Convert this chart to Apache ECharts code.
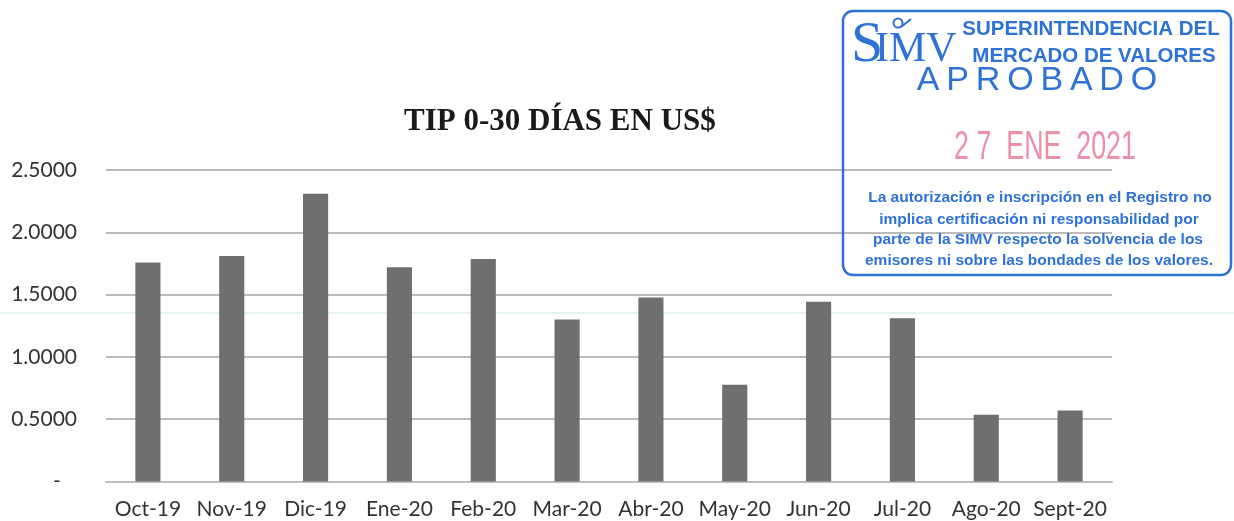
<!DOCTYPE html>
<html>
<head>
<meta charset="utf-8">
<script src="https://cdn.jsdelivr.net/npm/echarts@6/dist/echarts.min.js"></script>
<style>
html,body{margin:0;padding:0;background:#fff;}
#chart{width:1234px;height:521px;}
</style>
</head>
<body>
<div id="chart"></div>
<script>
var titleText = 'TIP 0-30 DÍAS EN US$';
var categories = ['Oct-19','Nov-19','Dic-19','Ene-20','Feb-20','Mar-20','Abr-20','May-20','Jun-20','Jul-20','Ago-20','Sept-20'];
var values = [1.758, 1.810, 2.310, 1.720, 1.785, 1.300, 1.477, 0.776, 1.443, 1.310, 0.535, 0.570];
var stampHeader = ['SUPERINTENDENCIA DEL', 'MERCADO DE VALORES'];
var stampStatus = 'A\u2009P\u2009R\u2009O\u2009B\u2009A\u2009D\u2009O';
var stampDate = '2 7  ENE  2021';
var stampNote = [
  'La autorización e inscripción en el Registro no',
  'implica certificación ni responsabilidad por',
  'parte de la SIMV respecto la solvencia de los',
  'emisores ni sobre las bondades de los valores.'
];

var blue = '#2f72d6';
var noteFont = 'bold 15.5px "Liberation Sans", Arial, sans-serif';
var chart = echarts.init(document.getElementById('chart'), null, {renderer:'canvas'});
var option = {
  animation: false,
  backgroundColor: '#ffffff',
  title: {
    text: titleText,
    left: 404, top: 106, padding: 0,
    textStyle: {fontFamily: '"Liberation Serif", "DejaVu Serif", serif', fontWeight: 'bold', fontSize: 31, color: '#1a1a1a'}
  },
  grid: {left: 106, right: 122, top: 170, bottom: 39.5, containLabel: false},
  xAxis: {
    type: 'category',
    data: categories,
    axisTick: {show: false},
    axisLine: {show: true, lineStyle: {color: '#bdbdbd', width: 2}},
    axisLabel: {margin: 17, fontFamily: 'Lato, "Open Sans", sans-serif', fontSize: 21, color: '#333333', interval: 0}
  },
  yAxis: {
    type: 'value',
    min: 0, max: 2.5, interval: 0.5,
    axisLine: {show: false},
    axisTick: {show: false},
    splitLine: {lineStyle: {color: '#a4a4a4', width: 1.5}},
    axisLabel: {
      margin: 29,
      fontFamily: 'Lato, "Open Sans", sans-serif', fontSize: 21, color: '#333333',
      formatter: function (v) { return v === 0 ? '-   ' : v.toFixed(4); }
    }
  },
  series: [{
    type: 'bar',
    data: values,
    barWidth: '30%',
    itemStyle: {color: '#6f6f6f'}
  }],
  graphic: [
    {type: 'line', shape: {x1: 0, y1: 313, x2: 1234, y2: 313}, style: {stroke: '#e3f4f2', lineWidth: 2}, silent: true, z: -1},
    {type: 'rect', shape: {x: 843, y: 11, width: 388, height: 264, r: 10}, style: {fill: 'rgba(0,0,0,0)', stroke: blue, lineWidth: 2.5}, z: 100},
    {type: 'text', left: 851, top: 17, style: {text: 'S', font: '58px "Liberation Serif", serif', fill: blue}, z: 100},
    {type: 'text', left: 875, top: 29, style: {text: 'IMV', font: '42px "Liberation Serif", serif', fill: blue}, z: 100},
    {type: 'circle', shape: {cx: 898, cy: 23, r: 4.5}, style: {fill: 'none', stroke: blue, lineWidth: 2}, z: 100},
    {type: 'line', shape: {x1: 901, y1: 27, x2: 911, y2: 19}, style: {stroke: blue, lineWidth: 2}, z: 100},
    {type: 'text', x: 1091, y: 29, style: {text: stampHeader[0], font: 'bold 20.5px "Liberation Sans", Arial, sans-serif', fill: blue, align: 'center', verticalAlign: 'middle'}, z: 100},
    {type: 'text', x: 1094, y: 56, style: {text: stampHeader[1], font: 'bold 20.5px "Liberation Sans", Arial, sans-serif', fill: blue, align: 'center', verticalAlign: 'middle'}, z: 100},
    {type: 'text', x: 1037, y: 81, style: {text: stampStatus, font: '34px "Liberation Sans", Arial, sans-serif', fill: blue, align: 'center', verticalAlign: 'middle'}, z: 100},
    {type: 'text', x: 1045, y: 148, scaleX: 0.67, style: {text: stampDate, font: '40px "Liberation Sans", Arial, sans-serif', fill: '#ec8fa8', align: 'center', verticalAlign: 'middle'}, z: 100},
    {type: 'text', x: 1040, y: 198, style: {text: stampNote[0], font: noteFont, fill: blue, align: 'center', verticalAlign: 'middle'}, z: 100},
    {type: 'text', x: 1039, y: 220, style: {text: stampNote[1], font: noteFont, fill: blue, align: 'center', verticalAlign: 'middle'}, z: 100},
    {type: 'text', x: 1038, y: 240, style: {text: stampNote[2], font: noteFont, fill: blue, align: 'center', verticalAlign: 'middle'}, z: 100},
    {type: 'text', x: 1039, y: 261, style: {text: stampNote[3], font: noteFont, fill: blue, align: 'center', verticalAlign: 'middle'}, z: 100}
  ]
};
chart.setOption(option);
</script>
</body>
</html>
